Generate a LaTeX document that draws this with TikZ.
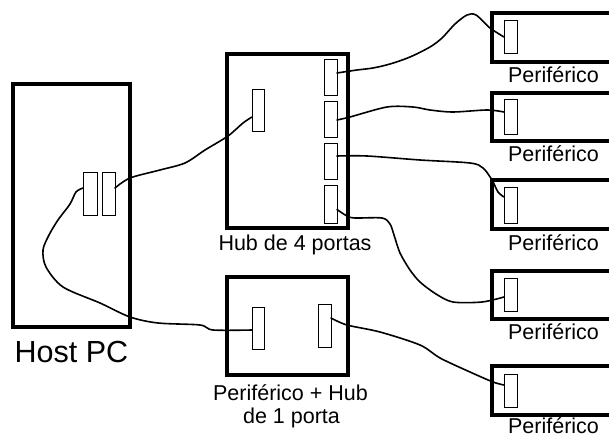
\documentclass[tikz,border=0pt]{standalone}
\usepackage{fontspec}
\setmainfont{Liberation Sans}
\begin{document}
\begin{tikzpicture}[x=1pt,y=-1pt,
  box/.style={draw,line width=3.8pt,inner sep=0pt,outer sep=0pt,rectangle},
  port/.style={draw,line width=1pt,inner sep=0pt,outer sep=0pt,rectangle,fill=white},
  cable/.style={line width=1.6pt,line join=round,line cap=round},
  lbl/.style={anchor=base,inner sep=0pt,font=\fontsize{21.5}{24}\selectfont},
  biglbl/.style={anchor=base,inner sep=0pt,font=\fontsize{30.5}{34}\selectfont}]
\useasboundingbox (0,0) rectangle (609,438);
\clip (0,0) rectangle (609,438);
\fill[white] (0,0) rectangle (609,438);
% Host PC
\node[box,minimum width=117pt,minimum height=243pt] (host) at (71.5,205.5) {};
\node[port,minimum width=14pt,minimum height=42pt] (hostpA) at (90,194) {};
\node[port,minimum width=13pt,minimum height=42pt] (hostpB) at (108.5,194) {};
\node[biglbl] (hostlbl) at (71.5,362) {Host PC};
% Hub de 4 portas
\node[box,minimum width=121pt,minimum height=174pt] (hub) at (287.5,141) {};
\node[port,minimum width=12pt,minimum height=42pt] (hubin) at (258,111) {};
\node[port,minimum width=13pt,minimum height=36pt] (hubp1) at (330.5,78) {};
\node[port,minimum width=13pt,minimum height=36pt] (hubp2) at (330.5,120) {};
\node[port,minimum width=13pt,minimum height=36pt] (hubp3) at (330.5,162) {};
\node[port,minimum width=13pt,minimum height=37pt] (hubp4) at (330.5,204.5) {};
\node[lbl] (hublbl) at (295,250) {Hub de 4 portas};
% Periferico + Hub
\node[box,minimum width=121pt,minimum height=98pt] (hubb) at (287.5,326) {};
\node[port,minimum width=12pt,minimum height=42pt] (hubbin) at (258,328) {};
\node[port,minimum width=13pt,minimum height=43pt] (hubbout) at (324.5,325.5) {};
\node[lbl] (hubblblA) at (290.5,400) {Periférico + Hub};
\node[lbl] (hubblblB) at (291.5,423) {de 1 porta};
% Perifericos
\node[box,minimum width=160pt,minimum height=49pt] (perA) at (572,37.5) {};
\node[box,minimum width=160pt,minimum height=48pt] (perB) at (572,117) {};
\node[box,minimum width=160pt,minimum height=49pt] (perC) at (572,204.5) {};
\node[box,minimum width=160pt,minimum height=48pt] (perD) at (572,295) {};
\node[box,minimum width=160pt,minimum height=49pt] (perE) at (572,390.5) {};
\node[port,minimum width=13pt,minimum height=33pt] (perAp) at (510.5,37) {};
\node[port,minimum width=13pt,minimum height=35pt] (perBp) at (510.5,117.5) {};
\node[port,minimum width=13pt,minimum height=35pt] (perCp) at (510.5,205.5) {};
\node[port,minimum width=13pt,minimum height=33pt] (perDp) at (510.5,294.5) {};
\node[port,minimum width=13pt,minimum height=33pt] (perEp) at (510.5,390.5) {};
\node[lbl] (perAl) at (553.5,83) {Periférico};
\node[lbl] (perBl) at (553.5,162) {Periférico};
\node[lbl] (perCl) at (553.5,250) {Periférico};
\node[lbl] (perDl) at (553.5,339) {Periférico};
\node[lbl] (perEl) at (553.5,433.5) {Periférico};
% Cables
\draw[cable] plot[smooth,tension=0.5] coordinates {([yshift=6pt]hostpB.east) (130,178) (160,170) (185,163) (205,150) (228,136) (243,123) ([yshift=-6pt]hubin.west)};
\draw[cable] plot[smooth,tension=0.5] coordinates {([yshift=6pt]hostpA.west) (76,192) (70,204) (58,220) (49,235) (43,250) (46,267) (63,287) (100,303) (130,317) (158,323) (200,325) (213,330) ([yshift=-2pt]hubbin.west)};
\draw[cable] plot[smooth,tension=0.5] coordinates {([yshift=7.5pt]hubbout.east) (347,325) (380,332) (420,345) (440,358) (470,372) (493,382) ([yshift=5.5pt]perEp.west)};
\draw[cable] plot[smooth,tension=0.5] coordinates {([yshift=5pt]hubp1.east) (357,70) (373,68) (390,64) (410,57) (430,47) (442,38) (455,24) (467,15) (476,15) (490,28) (perAp.west)};
\draw[cable] plot[smooth,tension=0.5] coordinates {(hubp2.east) (350,117) (387,107) (413,107) (430,110) (453,112) (487,110) ([yshift=5.5pt]perBp.west)};
\draw[cable] plot[smooth,tension=0.5] coordinates {([yshift=6pt]hubp3.east) (367,156) (420,160) (470,163) (483,168) (492,180) (498,192) ([yshift=8.5pt]perCp.west)};
\draw[cable] plot[smooth,tension=0.5] coordinates {([yshift=-5pt]hubp4.east) (347,216) (355,218) (382,218) (390,224) (394,235) (400,253) (410,270) (420,282) (436,294) (453,302) (482,302) ([yshift=-2.5pt]perDp.west)};
\end{tikzpicture}
\end{document}
